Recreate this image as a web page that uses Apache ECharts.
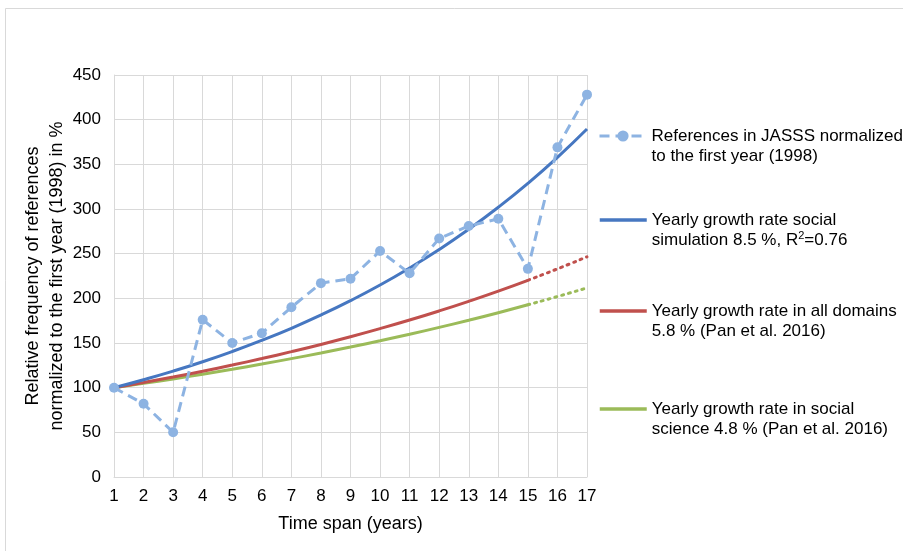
<!DOCTYPE html>
<html>
<head>
<meta charset="utf-8">
<title>Growth of references in JASSS</title>
<script src="https://cdn.jsdelivr.net/npm/echarts@6/dist/echarts.min.js"></script>
<style>
  html, body { margin: 0; padding: 0; background: #fff; }
  #chart { width: 903px; height: 551px; }
</style>
</head>
<body>
<div id="chart"></div>
<script>
// Années (axe x) et valeurs
const years = [1, 2, 3, 4, 5, 6, 7, 8, 9, 10, 11, 12, 13, 14, 15, 16, 17];
const jasss = [100, 82, 50, 176, 150, 161, 190, 217, 222, 253, 228, 267, 281, 289, 233, 369, 428];
const socialSim = [100, 108.9, 118.5, 129.0, 140.5, 153.0, 166.5, 181.3, 197.4, 214.9, 234.0, 254.7, 277.3, 301.9, 328.7, 357.9, 389.6];
const allDomains = [100, 105.8, 111.9, 118.4, 125.3, 132.6, 140.3, 148.4, 157.0, 166.1, 175.7, 185.9, 196.7, 208.1, 220.2, 233.0, 246.5];
const socialScience = [100, 104.8, 109.8, 115.1, 120.6, 126.4, 132.5, 138.8, 145.5, 152.5, 159.8, 167.5, 175.5, 183.9, 192.8, 202.0, 211.7];
// Partie pleine jusqu'à l'année 15, pointillés ensuite
const solidEnd = 15;

const names = [
    'References in JASSS normalized\nto the first year (1998)',
    'Yearly growth rate social\nsimulation 8.5 %, R{sup|2}=0.76',
    'Yearly growth rate in all domains\n5.8 % (Pan et al. 2016)',
    'Yearly growth rate in social\nscience 4.8 % (Pan et al. 2016)'
];

const FONT = '"Liberation Sans", Arial, sans-serif';

function pairs(values, from, to) {
    return years
        .map((y, i) => [y, values[i]])
        .filter(p => p[0] >= from && p[0] <= to);
}

// Une légende par série pour garder les écarts inégaux de l'original
function makeLegend(name, top, withMarker) {
    const legend = {
        data: [name],
        orient: 'vertical',
        left: 598,
        top: top,
        padding: 0,
        itemWidth: 47,
        itemHeight: 14,
        selectedMode: false,
        textStyle: {
            fontFamily: FONT,
            fontSize: 17,
            color: '#000',
            lineHeight: 20,
            padding: [20, 0, 0, 0],
            rich: {
                sup: { fontSize: 11, verticalAlign: 'top', lineHeight: 12, padding: [0, 0, 8, 0] }
            }
        }
    };
    if (!withMarker) {
        // pas de rond sur les courbes de tendance
        legend.itemStyle = { color: 'transparent', borderWidth: 0, opacity: 0 };
        legend.lineStyle = { width: 3.5 };
    } else {
        legend.lineStyle = { width: 3 };
    }
    return legend;
}

const dom = document.getElementById('chart');
const chart = echarts.init(dom);

chart.setOption({
    animation: false,
    backgroundColor: '#fff',
    graphic: [{
        type: 'rect',
        shape: { x: 5.5, y: 8.5, width: 920, height: 600 },
        style: { fill: 'none', stroke: '#d9d9d9', lineWidth: 1 },
        silent: true,
        z: -1
    }],
    grid: { left: 114, right: 316, top: 75, bottom: 74 },
    legend: [
        makeLegend(names[0], 106, true),
        makeLegend(names[1], 190, false),
        makeLegend(names[2], 281, false),
        makeLegend(names[3], 379, false)
    ],
    xAxis: {
        type: 'value',
        min: 1,
        max: 17,
        interval: 1,
        name: 'Time span (years)',
        nameLocation: 'middle',
        nameGap: 38,
        nameMoveOverlap: false,
        nameTextStyle: { fontFamily: FONT, fontSize: 18, color: '#000' },
        axisLine: { show: true, lineStyle: { color: '#d9d9d9' } },
        axisTick: { show: false },
        axisLabel: { fontFamily: FONT, fontSize: 17, color: '#000', margin: 11 },
        splitLine: { show: true, lineStyle: { color: '#d9d9d9' } }
    },
    yAxis: {
        type: 'value',
        min: 0,
        max: 450,
        interval: 50,
        name: 'Relative frequency of references\nnormalized to the first year (1998) in %',
        nameLocation: 'middle',
        nameGap: 45,
        nameMoveOverlap: false,
        nameTextStyle: { fontFamily: FONT, fontSize: 18, color: '#000', lineHeight: 24 },
        axisLine: { show: true, lineStyle: { color: '#d9d9d9' } },
        axisTick: { show: false },
        axisLabel: { fontFamily: FONT, fontSize: 17, color: '#000', margin: 13 },
        splitLine: { show: true, lineStyle: { color: '#d9d9d9' } }
    },
    series: [
        {
            name: names[3],
            type: 'line',
            data: pairs(socialScience, 1, solidEnd),
            smooth: true,
            symbol: 'none',
            color: '#9bbb59',
            lineStyle: { width: 3, color: '#9bbb59' },
            z: 2
        },
        {
            name: 'socialScienceDotted',
            type: 'line',
            data: pairs(socialScience, solidEnd, 17),
            smooth: true,
            symbol: 'none',
            color: '#9bbb59',
            lineStyle: { width: 3, color: '#9bbb59', type: [2, 5], cap: 'round' },
            z: 2
        },
        {
            name: names[2],
            type: 'line',
            data: pairs(allDomains, 1, solidEnd),
            smooth: true,
            symbol: 'none',
            color: '#c0504d',
            lineStyle: { width: 3, color: '#c0504d' },
            z: 3
        },
        {
            name: 'allDomainsDotted',
            type: 'line',
            data: pairs(allDomains, solidEnd, 17),
            smooth: true,
            symbol: 'none',
            color: '#c0504d',
            lineStyle: { width: 3, color: '#c0504d', type: [2, 5], cap: 'round' },
            z: 3
        },
        {
            name: names[1],
            type: 'line',
            data: pairs(socialSim, 1, 17),
            smooth: true,
            symbol: 'none',
            color: '#4677c1',
            lineStyle: { width: 3, color: '#4677c1' },
            z: 4
        },
        {
            name: names[0],
            type: 'line',
            data: pairs(jasss, 1, 17),
            symbol: 'circle',
            symbolSize: 10,
            color: '#8db3e2',
            itemStyle: { color: '#8db3e2' },
            lineStyle: { width: 3, color: '#8db3e2', type: [10, 6] },
            z: 5
        }
    ]
});

window.addEventListener('resize', () => chart.resize());
</script>
</body>
</html>
